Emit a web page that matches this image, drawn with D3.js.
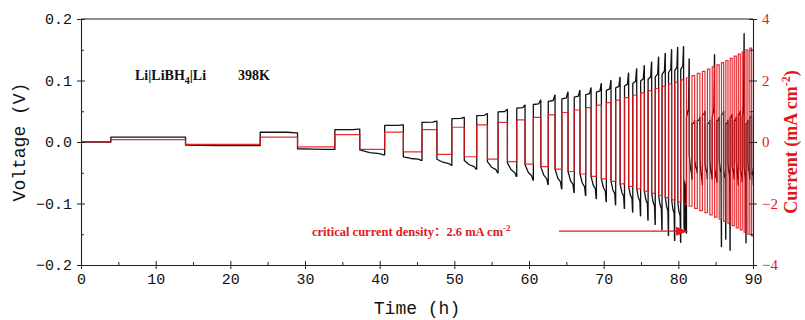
<!DOCTYPE html>
<html><head><meta charset="utf-8">
<script src="https://cdn.jsdelivr.net/npm/d3@7"></script>
<style>body{margin:0;background:#fff;} svg{display:block;}</style>
</head><body><svg id="c" width="805" height="320"></svg>
<script>
// ---- data ----
const cycleStart = [4,24,34,40.67,45.67,49.67,53.00,55.86,58.36,60.58,62.58,64.40,66.06,67.60,69.03,70.36,71.61,72.79,73.90,74.95,75.95,76.91,77.82,78.69,79.52,80.32,81.09,81.83,82.54,83.23,83.90,84.54,85.17,85.78,86.36,86.94,87.49,88.03,88.56,89.07,89.57,90.06];
const current = [0.08,0.16,0.24,0.32,0.40,0.48,0.56,0.64,0.72,0.80,0.88,0.96,1.04,1.12,1.20,1.28,1.36,1.44,1.52,1.60,1.67,1.74,1.81,1.88,1.95,2.02,2.09,2.16,2.23,2.30,2.37,2.44,2.51,2.58,2.65,2.72,2.79,2.86,2.93,3.00,3.05];
const posPlat = [0.008,0.016,0.020,0.027,0.032,0.038,0.043,0.049,0.055,0.061,0.066,0.070,0.073,0.077,0.081,0.084,0.088,0.091,0.095,0.099,0.102,0.106,0.110,0.113,0.116,0.118,0.040,0.030,0.035,0.045,0.030,0.040,0.035,0.045,0.030,0.040,0.035,0.045,0.040,0.030,0.040];
const posPeak = [0.008,0.015,0.021,0.028,0.034,0.040,0.046,0.053,0.060,0.068,0.076,0.081,0.084,0.088,0.095,0.100,0.105,0.112,0.119,0.124,0.130,0.138,0.144,0.150,0.154,0.155,0.135,0.035,0.040,0.050,0.035,0.142,0.040,0.050,0.035,0.045,0.040,0.050,0.176,0.035,0.045];
const negStart = [-0.005,-0.011,-0.013,-0.024,-0.028,-0.030,-0.032,-0.034,-0.037,-0.040,-0.044,-0.048,-0.052,-0.056,-0.060,-0.064,-0.068,-0.072,-0.076,-0.080,-0.083,-0.087,-0.090,-0.094,-0.097,-0.100,-0.020,-0.030,-0.025,-0.035,-0.030,-0.040,-0.030,-0.045,-0.035,-0.040,-0.030,-0.045,-0.040,-0.035,-0.040];
const negEnd = [-0.006,-0.012,-0.019,-0.028,-0.035,-0.040,-0.045,-0.050,-0.055,-0.060,-0.065,-0.069,-0.073,-0.076,-0.080,-0.084,-0.088,-0.092,-0.096,-0.100,-0.104,-0.108,-0.112,-0.116,-0.120,-0.120,-0.050,-0.045,-0.060,-0.050,-0.055,-0.060,-0.050,-0.060,-0.055,-0.050,-0.060,-0.055,-0.060,-0.050,-0.055];
const negPeak = [-0.006,-0.012,-0.021,-0.030,-0.038,-0.044,-0.050,-0.056,-0.062,-0.069,-0.076,-0.082,-0.087,-0.092,-0.097,-0.102,-0.108,-0.114,-0.120,-0.127,-0.134,-0.143,-0.152,-0.160,-0.163,-0.148,-0.060,-0.050,-0.070,-0.060,-0.060,-0.065,-0.170,-0.158,-0.176,-0.060,-0.070,-0.065,-0.164,-0.060,-0.070];
const shortNoise = [-0.06,-0.14,-0.07,-0.145,-0.065,-0.14,-0.08,-0.145,-0.07,-0.14,-0.09,-0.148];
const xTicks = [0,10,20,30,40,50,60,70,80,90];
const vTicks = [-0.2,-0.1,0,0.1,0.2];
const iTicks = [-4,-2,0,2,4];

// ---- layout ----
const svg = d3.select("#c");
const L=81, R=753, T=19, B=265;
const x = d3.scaleLinear().domain([0,90]).range([L,R]);
const yV = d3.scaleLinear().domain([-0.2,0.2]).range([B,T]);
const yI = d3.scaleLinear().domain([-4,4]).range([B,T]);
const RED = "#e4161c";
const monoFont = "'Liberation Mono', 'DejaVu Sans Mono', monospace";
const serif = "'Liberation Serif', 'Times New Roman', 'Noto Sans CJK SC', serif";

svg.append("defs").append("clipPath").attr("id","clip")
  .append("rect").attr("x",L).attr("y",T-2).attr("width",R-L).attr("height",B-T+4);

// voltage points
const vPts = [[0,0],[4,0]];
const iPts = [[0,0],[4,0]];
for (let i=0;i<current.length;i++){
  const t0=cycleStart[i], t2=cycleStart[i+1], t1=(t0+t2)/2, h=t1-t0;
  vPts.push([t0,posPlat[i]],[t0+0.72*h,posPlat[i]+(posPeak[i]-posPlat[i])*0.15],[t0+0.96*h,posPeak[i]],[t1,posPeak[i]]);
  if (i===25){
    vPts.push([t1,negStart[i]]);
    shortNoise.forEach((v,k)=>vPts.push([t1+h*(k+1)/(shortNoise.length+1),v]));
    vPts.push([t2,negPeak[i]]);
  } else {
    vPts.push([t1,negStart[i]],[t1+0.4*h,negStart[i]+(negEnd[i]-negStart[i])*0.7],[t1+0.8*h,negEnd[i]],[t1+0.95*h,negPeak[i]],[t2,negPeak[i]]);
  }
  iPts.push([t0,current[i]],[t1,current[i]],[t1,-current[i]],[t2,-current[i]]);
}

const g = svg.append("g").attr("clip-path","url(#clip)");
g.append("path").datum(vPts)
  .attr("d", d3.line().x(d=>x(d[0])).y(d=>yV(d[1])))
  .attr("fill","none").attr("stroke","#111").attr("stroke-width",1.3).attr("stroke-linejoin","round");
g.append("path").datum(iPts)
  .attr("d", d3.line().x(d=>x(d[0])).y(d=>yI(d[1])))
  .attr("fill","none").attr("stroke",RED).attr("stroke-width",1.2).attr("stroke-opacity",0.9);

// ---- axes ----
function styleAxis(sel, color){
  sel.select(".domain").attr("stroke","#222").attr("stroke-width",1.1);
  sel.selectAll(".tick line").attr("stroke","#222").attr("stroke-width",1);
  sel.selectAll("text").attr("fill",color);
}
// bottom
const gx = svg.append("g").attr("transform",`translate(0,${B})`)
  .call(d3.axisBottom(x).tickValues(xTicks).tickSize(4).tickPadding(4).tickSizeOuter(0));
gx.selectAll("text").attr("font-family",monoFont).attr("font-size",15);
styleAxis(gx,"#111");
svg.append("g").attr("transform",`translate(0,${B})`)
  .call(d3.axisBottom(x).tickValues(xTicks).tickSize(-4).tickFormat("").tickSizeOuter(0))
  .call(s=>{s.select(".domain").remove(); s.selectAll("line").attr("stroke","#222");});
svg.append("g").attr("transform",`translate(0,${B})`)
  .call(d3.axisBottom(x).tickValues([5,15,25,35,45,55,65,75,85]).tickSize(-3).tickFormat("").tickSizeOuter(0))
  .call(s=>{s.select(".domain").remove(); s.selectAll("line").attr("stroke","#222");});
// top border
svg.append("line").attr("x1",L).attr("x2",R).attr("y1",T).attr("y2",T).attr("stroke","#222").attr("stroke-width",1.1);

// left
const gy = svg.append("g").attr("transform",`translate(${L},0)`)
  .call(d3.axisLeft(yV).tickValues(vTicks).tickFormat(d3.format(".1f")).tickSize(4).tickPadding(5).tickSizeOuter(0));
gy.selectAll("text").attr("font-family",monoFont).attr("font-size",15);
styleAxis(gy,"#111");
svg.append("g").attr("transform",`translate(${L},0)`)
  .call(d3.axisLeft(yV).tickValues(vTicks).tickSize(-4).tickFormat("").tickSizeOuter(0))
  .call(s=>{s.select(".domain").remove(); s.selectAll("line").attr("stroke","#222");});
svg.append("g").attr("transform",`translate(${L},0)`)
  .call(d3.axisLeft(yV).tickValues([-0.15,-0.05,0.05,0.15]).tickSize(-3).tickFormat("").tickSizeOuter(0))
  .call(s=>{s.select(".domain").remove(); s.selectAll("line").attr("stroke","#222");});

// right
const gr = svg.append("g").attr("transform",`translate(${R},0)`)
  .call(d3.axisRight(yI).tickValues(iTicks).tickSize(4).tickPadding(5).tickSizeOuter(0));
gr.selectAll("text").attr("font-family",serif).attr("font-size",15);
styleAxis(gr,RED);
svg.append("g").attr("transform",`translate(${R},0)`)
  .call(d3.axisRight(yI).tickValues(iTicks).tickSize(-4).tickFormat("").tickSizeOuter(0))
  .call(s=>{s.select(".domain").remove(); s.selectAll("line").attr("stroke","#222");});
svg.append("g").attr("transform",`translate(${R},0)`)
  .call(d3.axisRight(yI).tickValues([-3,-1,1,3]).tickSize(-3).tickFormat("").tickSizeOuter(0))
  .call(s=>{s.select(".domain").remove(); s.selectAll("line").attr("stroke","#222");});

// axis titles
svg.append("text").attr("x",(L+R)/2).attr("y",314).attr("text-anchor","middle")
  .attr("font-family",monoFont).attr("font-size",18).attr("fill","#111").text("Time (h)");
svg.append("text").attr("transform",`translate(25,${(T+B)/2}) rotate(-90)`).attr("text-anchor","middle")
  .attr("font-family",monoFont).attr("font-size",18).attr("fill","#111").text("Voltage (V)");
const rt = svg.append("text").attr("transform",`translate(797,${(T+B)/2}) rotate(-90)`).attr("text-anchor","middle")
  .attr("font-family",serif).attr("font-size",18).attr("font-weight","bold").attr("fill",RED);
rt.append("tspan").text("Current (mA cm");
rt.append("tspan").attr("dy",-7).attr("font-size",12).text("-2");
rt.append("tspan").attr("dy",7).text(")");

// sample label
const lab = svg.append("text").attr("x",135).attr("y",80).attr("font-family",serif)
  .attr("font-size",14).attr("font-weight","bold").attr("fill","#111");
lab.append("tspan").text("Li|LiBH");
lab.append("tspan").attr("dy",4).attr("font-size",10).text("4");
lab.append("tspan").attr("dy",-4).text("|Li");
svg.append("text").attr("x",238).attr("y",80).attr("font-family",serif)
  .attr("font-size",14).attr("font-weight","bold").attr("fill","#111").text("398K");

// annotation
const ay = yV(-0.145);
const an = svg.append("text").attr("x",312).attr("y",ay+4.5).attr("font-family",serif)
  .attr("font-size",12.5).attr("font-weight","bold").attr("fill",RED);
an.append("tspan").text("critical current density：2.6 mA cm");
an.append("tspan").attr("dy",-5).attr("font-size",9).text("-2");
const ax0 = 559, ax1 = x(81.3);
svg.append("line").attr("x1",ax0).attr("x2",ax1-9).attr("y1",ay).attr("y2",ay).attr("stroke",RED).attr("stroke-width",1.3);
svg.append("path").attr("d",`M${ax1},${ay} L${ax1-12},${ay-4.5} L${ax1-12},${ay+4.5} Z`).attr("fill",RED);
</script></body></html>
